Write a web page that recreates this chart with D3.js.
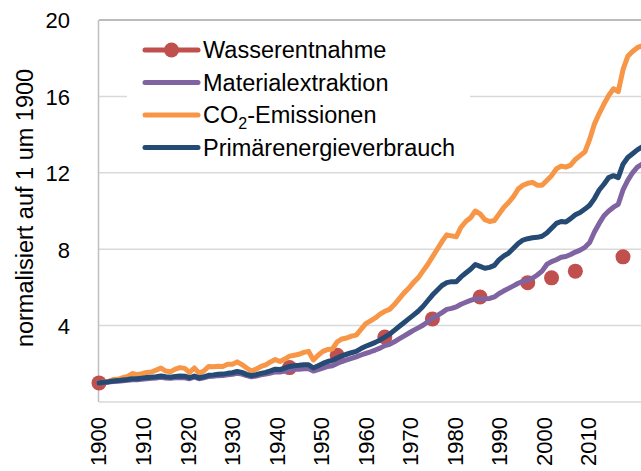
<!DOCTYPE html>
<html>
<head>
<meta charset="utf-8">
<script src="https://cdn.jsdelivr.net/npm/d3@7/dist/d3.min.js"></script>
<style>
  html, body { margin: 0; padding: 0; background: #fff; }
  svg { display: block; }
  text { font-family: "Liberation Sans", Arial, sans-serif; fill: #000; }
</style>
</head>
<body>
<script>
// ---------- DATA ----------
const years = [1900,1901,1902,1903,1904,1905,1906,1907,1908,1909,
1910,1911,1912,1913,1914,1915,1916,1917,1918,1919,
1920,1921,1922,1923,1924,1925,1926,1927,1928,1929,
1930,1931,1932,1933,1934,1935,1936,1937,1938,1939,
1940,1941,1942,1943,1944,1945,1946,1947,1948,1949,
1950,1951,1952,1953,1954,1955,1956,1957,1958,1959,
1960,1961,1962,1963,1964,1965,1966,1967,1968,1969,
1970,1971,1972,1973,1974,1975,1976,1977,1978,1979,
1980,1981,1982,1983,1984,1985,1986,1987,1988,1989,
1990,1991,1992,1993,1994,1995,1996,1997,1998,1999,
2000,2001,2002,2003,2004,2005,2006,2007,2008,2009,
2010,2011,2012,2013,2014];

const co2Emissionen = [1.00,1.05,1.08,1.18,1.19,1.27,1.34,1.49,1.43,1.48,
1.55,1.57,1.67,1.78,1.62,1.58,1.72,1.80,1.76,1.55,
1.78,1.52,1.62,1.86,1.84,1.87,1.86,1.98,1.98,2.10,
1.96,1.78,1.62,1.72,1.86,1.94,2.10,2.22,2.12,2.25,
2.40,2.45,2.50,2.60,2.65,2.20,2.45,2.65,2.75,2.78,
3.15,3.30,3.35,3.45,3.50,3.80,4.10,4.25,4.40,4.60,
4.75,4.85,5.10,5.40,5.70,5.95,6.25,6.50,6.85,7.20,
7.60,8.00,8.40,8.75,8.70,8.65,9.15,9.45,9.65,10.00,
9.85,9.55,9.45,9.50,9.85,10.20,10.45,10.75,11.15,11.35,
11.45,11.50,11.35,11.35,11.60,11.85,12.20,12.35,12.30,12.40,
12.70,12.90,13.10,13.75,14.55,15.10,15.60,16.05,16.40,16.25,
17.40,18.10,18.35,18.55,18.65];

const primaerenergie = [1.00,1.03,1.06,1.10,1.12,1.15,1.18,1.22,1.22,1.25,
1.28,1.30,1.32,1.36,1.32,1.30,1.34,1.36,1.35,1.27,
1.36,1.26,1.32,1.40,1.42,1.45,1.46,1.50,1.53,1.60,
1.55,1.45,1.38,1.43,1.50,1.55,1.63,1.72,1.70,1.78,
1.86,1.90,1.92,1.95,1.95,1.78,1.90,2.02,2.12,2.18,
2.30,2.42,2.50,2.58,2.65,2.80,2.92,3.02,3.12,3.25,
3.40,3.55,3.75,3.95,4.15,4.35,4.55,4.75,5.00,5.30,
5.60,5.85,6.10,6.25,6.30,6.30,6.55,6.75,6.95,7.20,
7.10,7.00,7.05,7.15,7.45,7.65,7.80,8.05,8.30,8.48,
8.55,8.60,8.62,8.68,8.85,9.10,9.35,9.45,9.42,9.60,
9.80,9.92,10.10,10.30,10.65,11.10,11.40,11.75,11.85,11.75,
12.45,12.80,13.00,13.20,13.35];

const materialextraktion = [1.00,1.02,1.04,1.07,1.08,1.11,1.14,1.17,1.16,1.19,
1.22,1.24,1.26,1.29,1.25,1.24,1.27,1.28,1.27,1.22,
1.30,1.22,1.27,1.33,1.35,1.38,1.39,1.42,1.45,1.50,
1.46,1.38,1.32,1.36,1.42,1.46,1.52,1.58,1.57,1.62,
1.68,1.72,1.72,1.74,1.74,1.62,1.70,1.78,1.86,1.90,
2.02,2.12,2.20,2.28,2.36,2.46,2.55,2.63,2.72,2.82,
2.95,3.02,3.15,3.30,3.45,3.60,3.75,3.88,4.02,4.20,
4.38,4.52,4.68,4.85,4.90,4.98,5.12,5.22,5.32,5.40,
5.38,5.40,5.42,5.50,5.68,5.82,5.95,6.08,6.22,6.32,
6.40,6.48,6.65,6.85,7.20,7.35,7.45,7.58,7.62,7.72,
7.85,7.95,8.10,8.35,8.90,9.35,9.75,10.00,10.20,10.35,
11.10,11.60,12.00,12.30,12.45];

const wasserJahre = [1900,1940,1950,1960,1970,1980,1990,1995,2000,2010];
const wasserentnahme = [1.00,1.80,2.45,3.40,4.35,5.50,6.25,6.50,6.85,7.60];

const yTicks = [4, 8, 12, 16, 20];
const xTickLabels = [1900,1910,1920,1930,1940,1950,1960,1970,1980,1990,2000,2010];

const seriesNames = ["Wasserentnahme", "Materialextraktion", "CO2-Emissionen", "Primärenergieverbrauch"];
const seriesColors = ["#c0504d", "#8064a2", "#f79646", "#254a74"];
const yTitle = "normalisiert auf 1 um 1900";

// ---------- CHART ----------
const W = 641, H = 471;
const svg = d3.select("body").append("svg").attr("width", W).attr("height", H);

const plotLeft = 99, plotRight = 641, plotTop = 20, plotBottom = 402;

const x = d3.scaleLinear().domain([1900, 2010]).range([99, 623]);
// category label axis (labels in the reference are spaced slightly tighter)
const xLab = d3.scaleLinear().domain([1900, 2010]).range([98, 588]);
const y = d3.scaleLinear().domain([0, 20]).range([plotBottom, plotTop]);

// gridlines
svg.append("g").selectAll("line").data(yTicks).join("line")
  .attr("x1", plotLeft).attr("x2", plotRight)
  .attr("y1", d => y(d)).attr("y2", d => y(d))
  .attr("stroke", d => d === 20 ? "#a6a6a6" : "#d9d9d9")
  .attr("stroke-width", 1.5);

// bottom axis line
svg.append("line")
  .attr("x1", plotLeft).attr("x2", plotRight)
  .attr("y1", y(0)).attr("y2", y(0))
  .attr("stroke", "#d9d9d9").attr("stroke-width", 1.5);

// left axis line
svg.append("line")
  .attr("x1", plotLeft - 0.5).attr("x2", plotLeft - 0.5)
  .attr("y1", y(20)).attr("y2", y(0))
  .attr("stroke", "#bfbfbf").attr("stroke-width", 1.5);

// y tick labels
const yAxis = d3.axisLeft(y).tickValues(yTicks).tickSize(0).tickPadding(0);
const yg = svg.append("g").attr("transform", "translate(70,0)").call(yAxis);
yg.select(".domain").remove();
yg.selectAll("text").attr("font-size", 22).attr("font-family", "Liberation Sans, Arial, sans-serif")
  .attr("fill", "#000").attr("dy", "0.36em");

// x tick labels (rotated)
const xAxis = d3.axisBottom(xLab).tickValues(xTickLabels).tickSize(0).tickFormat(d3.format("d"));
const xg = svg.append("g").attr("transform", "translate(0,417)").call(xAxis);
xg.select(".domain").remove();
xg.selectAll("text")
  .attr("font-size", 22).attr("font-family", "Liberation Sans, Arial, sans-serif").attr("fill", "#000")
  .attr("transform", "rotate(-90)")
  .attr("text-anchor", "end")
  .attr("x", 0).attr("y", 0).attr("dy", "0.36em");

// y title
svg.append("text")
  .attr("transform", "translate(25,208) rotate(-90)")
  .attr("text-anchor", "middle").attr("dy", "0.36em")
  .attr("font-size", 23.5)
  .text(yTitle);

// water dots (beneath lines)
svg.append("g").selectAll("circle").data(wasserJahre.map((d, i) => [d, wasserentnahme[i]])).join("circle")
  .attr("cx", d => x(d[0])).attr("cy", d => y(d[1])).attr("r", 7.5)
  .attr("fill", seriesColors[0]);

const line = d3.line().x(d => x(d[0])).y(d => y(d[1]));
const lineSeries = [
  { vals: co2Emissionen, color: seriesColors[2] },
  { vals: materialextraktion, color: seriesColors[1] },
  { vals: primaerenergie, color: seriesColors[3] }
];
svg.append("g").selectAll("path").data(lineSeries).join("path")
  .attr("d", s => line(years.map((yr, i) => [yr, s.vals[i]])))
  .attr("fill", "none").attr("stroke", s => s.color)
  .attr("stroke-width", 5).attr("stroke-linejoin", "round").attr("stroke-linecap", "round");

// legend
const leg = svg.append("g");
leg.append("rect").attr("x", 127).attr("y", 28).attr("width", 343).attr("height", 136).attr("fill", "#fff");
const rowY = [50, 82.5, 115, 147.5];
seriesNames.forEach((name, i) => {
  const g = leg.append("g").attr("transform", `translate(0,${rowY[i]})`);
  g.append("line").attr("x1", 145).attr("x2", 198).attr("y1", 0).attr("y2", 0)
    .attr("stroke", seriesColors[i]).attr("stroke-width", 5).attr("stroke-linecap", "round");
  if (i === 0) g.append("circle").attr("cx", 171.5).attr("cy", 0).attr("r", 7.5).attr("fill", seriesColors[0]);
  const t = g.append("text").attr("x", 203).attr("dy", "0.36em").attr("font-size", 23.5);
  if (name.startsWith("CO2")) {
    t.append("tspan").text("CO");
    t.append("tspan").attr("font-size", 16).attr("dy", 6).text("2");
    t.append("tspan").attr("dy", -6).text(name.slice(3));
  } else {
    t.text(name);
  }
});
</script>
</body>
</html>
